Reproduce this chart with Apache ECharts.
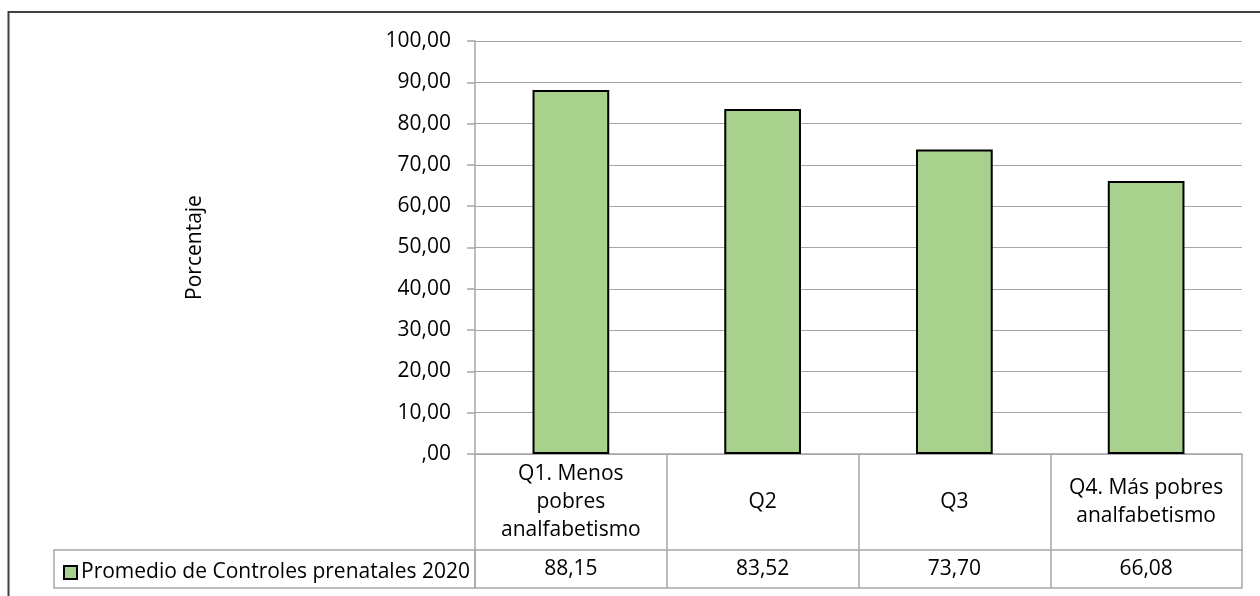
<!DOCTYPE html>
<html>
<head>
<meta charset="utf-8">
<script src="https://cdn.jsdelivr.net/npm/echarts@6/dist/echarts.min.js"></script>
<style>
  html, body { margin: 0; padding: 0; background: #fff; }
  #chart { width: 1260px; height: 596px; }
</style>
</head>
<body>
<div id="chart"></div>
<script>
var categories = ['Q1. Menos\npobres\nanalfabetismo', 'Q2', 'Q3', 'Q4. Más pobres\nanalfabetismo'];
var values = [88.15, 83.52, 73.70, 66.08];
var seriesName = 'Promedio de Controles prenatales 2020';
var yTitle = 'Porcentaje';

function fmt(v) {
    if (v === 0) return ',00';
    return v.toFixed(2).replace('.', ',');
}

var chartDom = document.getElementById('chart');
var myChart = echarts.init(chartDom);
var font = '"Open Sans", "Noto Sans", sans-serif';
var grey = '#a6a6a6';
var fs = 21;

var option = {
    animation: false,
    textStyle: { fontFamily: font, color: '#000' },
    grid: { left: 475, right: 18, top: 41, bottom: 142, containLabel: false },
    legend: {
        data: [seriesName],
        left: 58,
        top: 557,
        icon: 'rect',
        itemWidth: 13,
        itemHeight: 13,
        itemGap: 0,
        textStyle: { fontFamily: font, fontSize: fs, color: '#000', padding: [0, 0, 0, -1] }
    },
    xAxis: [
        {
            type: 'category',
            data: categories,
            position: 'bottom',
            axisLine: { show: true, lineStyle: { color: grey, width: 1.5 } },
            axisTick: { show: true, length: 134, lineStyle: { color: grey, width: 1.5 } },
            axisLabel: {
                fontFamily: font, fontSize: fs, color: '#000',
                margin: 48, verticalAlign: 'middle', lineHeight: 28, align: 'center',
                interval: 0
            }
        },
        {
            type: 'category',
            data: values.map(fmt),
            position: 'bottom',
            offset: 96,
            axisLine: { show: true, lineStyle: { color: grey, width: 1.5 } },
            axisTick: { show: false },
            axisLabel: {
                fontFamily: font, fontSize: fs, color: '#000',
                margin: 19, verticalAlign: 'middle', interval: 0
            }
        },
        {
            type: 'category',
            data: values.map(fmt),
            position: 'bottom',
            offset: 134,
            axisLine: { show: true, lineStyle: { color: grey, width: 1.5 } },
            axisTick: { show: false },
            axisLabel: { show: false }
        }
    ],
    yAxis: {
        type: 'value',
        min: 0,
        max: 100,
        interval: 10,
        name: yTitle,
        nameLocation: 'middle',
        nameGap: 269,
        nameTextStyle: { fontFamily: font, fontSize: fs, color: '#000' },
        axisLine: { show: true, lineStyle: { color: grey, width: 1.5 } },
        axisTick: { show: true, length: 8, lineStyle: { color: grey, width: 1.5 } },
        splitLine: { show: true, lineStyle: { color: grey, width: 1.2 } },
        axisLabel: {
            fontFamily: font, fontSize: fs, color: '#000', margin: 24,
            formatter: fmt
        }
    },
    series: [
        {
            name: seriesName,
            type: 'bar',
            data: values,
            xAxisIndex: 0,
            barWidth: '40%',
            itemStyle: { color: '#a9d18e', borderColor: '#000', borderWidth: 2 }
        }
    ],
    graphic: [
        {
            type: 'rect',
            shape: { x: 8.5, y: 12, width: 1400, height: 800 },
            style: { fill: 'none', stroke: '#404040', lineWidth: 2 },
            silent: true
        },
        {
            type: 'rect',
            shape: { x: 54, y: 550, width: 421, height: 38 },
            style: { fill: 'none', stroke: grey, lineWidth: 1.5 },
            silent: true
        }
    ]
};

option && myChart.setOption(option);
</script>
</body>
</html>
